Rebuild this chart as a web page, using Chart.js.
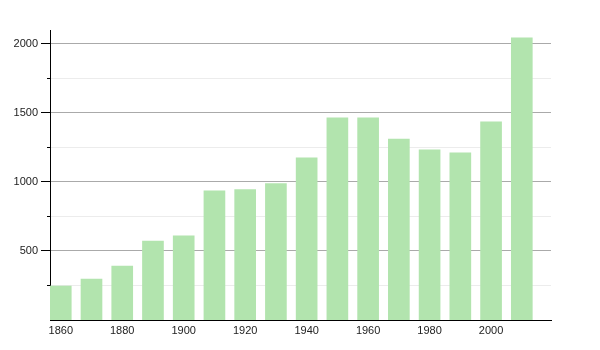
<!DOCTYPE html>
<html>
<head>
<meta charset="utf-8">
<script src="https://cdn.jsdelivr.net/npm/chart.js@4"></script>
<style>
    html, body { margin: 0; padding: 0; background: #fff; }
    #wrap { width: 600px; height: 350px; }
</style>
</head>
<body>
<div id="wrap"><canvas id="popChart"></canvas></div>
<script>
// Data
const years = [1860, 1870, 1880, 1890, 1900, 1910, 1920, 1930, 1940, 1950, 1960, 1970, 1980, 1990, 2000, 2010];
const population = [246, 297, 391, 572, 609, 935, 944, 988, 1174, 1464, 1464, 1310, 1232, 1210, 1435, 2043];
const xTickLabels = [1860, 1880, 1900, 1920, 1940, 1960, 1980, 2000];
const yTickLabels = [500, 1000, 1500, 2000];

// short minor tick marks on the y axis (every 250 between labels)
const minorTicks = {
    id: 'minorTicks',
    afterDraw(chart) {
        const y = chart.scales.y;
        const ctx = chart.ctx;
        ctx.save();
        ctx.strokeStyle = '#000';
        ctx.lineWidth = 1;
        for (let v = 250; v <= 2100; v += 500) {
            const py = Math.round(y.getPixelForValue(v)) + 0.5;
            ctx.beginPath();
            ctx.moveTo(y.right - 3, py);
            ctx.lineTo(y.right, py);
            ctx.stroke();
        }
        ctx.restore();
    }
};

const ctx = document.getElementById('popChart').getContext('2d');
const popChart = new Chart(ctx, {
    type: 'bar',
    data: {
        datasets: [{
            data: years.map((yr, i) => ({ x: yr, y: population[i] })),
            backgroundColor: '#b2e4ae',
            borderWidth: 0,
            barThickness: 21
        }]
    },
    options: {
        responsive: true,
        maintainAspectRatio: false,
        animation: false,
        layout: { padding: { top: 30, right: 49, left: 0, bottom: 0 } },
        plugins: {
            legend: { display: false },
            tooltip: { enabled: false }
        },
        scales: {
            x: {
                type: 'linear',
                offset: false,
                min: 1856.5,
                max: 2019.5,
                afterBuildTicks: (scale) => {
                    scale.ticks = xTickLabels.map(v => ({ value: v }));
                },
                grid: { display: false, drawTicks: false, offset: false },
                border: { color: '#000', width: 1 },
                ticks: {
                    color: '#222',
                    padding: 4,
                    maxRotation: 0,
                    font: { family: 'Liberation Sans, Arial, sans-serif', size: 11 },
                    callback: (v) => String(v)
                },
                afterFit: (scale) => { scale.height = 30; }
            },
            y: {
                min: 0,
                max: 2100,
                afterBuildTicks: (scale) => {
                    const t = [];
                    for (let v = 250; v <= 2000; v += 250) t.push({ value: v });
                    scale.ticks = t;
                },
                grid: {
                    color: (c) => (c.tick && c.tick.value % 500 === 0) ? '#aaaaaa' : '#ececec',
                    tickColor: (c) => (c.tick && c.tick.value % 500 === 0) ? '#000' : 'rgba(0,0,0,0)',
                    tickLength: 9
                },
                border: { color: '#000', width: 1 },
                ticks: {
                    color: '#222',
                    padding: 3,
                    font: { family: 'Liberation Sans, Arial, sans-serif', size: 11 },
                    callback: (v) => yTickLabels.includes(v) ? String(v) : ''
                },
                afterFit: (scale) => { scale.width = 50; }
            }
        }
    },
    plugins: [minorTicks]
});
</script>
</body>
</html>
